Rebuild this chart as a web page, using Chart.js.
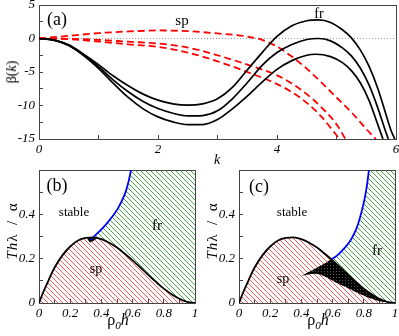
<!DOCTYPE html>
<html>
<head>
<meta charset="utf-8">
<script src="https://cdn.jsdelivr.net/npm/chart.js@4.4.0/dist/chart.umd.min.js"></script>
<style>
body { margin: 0; background: #fff; width: 399px; height: 336px; position: relative; overflow: hidden; font-family: "Liberation Serif", serif; }
canvas { position: absolute; }
.t { position: absolute; transform: translate(-50%, -50%); white-space: nowrap; line-height: 1; color: #000; }
.r { transform: translate(-50%, -50%) rotate(-90deg); }
</style>
</head>
<body>
<canvas id="ca" width="399" height="165" style="left:0;top:0"></canvas>
<canvas id="cb" width="200" height="171" style="left:0;top:165px"></canvas>
<canvas id="cc" width="199" height="171" style="left:200px;top:165px"></canvas>

<div class="t" style="left:57px;top:19px;font-size:18px">(a)</div>
<div class="t" style="left:182px;top:20px;font-size:15px">sp</div>
<div class="t" style="left:319px;top:14px;font-size:14px">fr</div>
<div class="t r" style="left:12px;top:72px;font-size:14px">β(<i>k</i>)</div>
<div class="t" style="left:217px;top:160px;font-size:14px"><i>k</i></div>

<div class="t" style="left:57px;top:185px;font-size:18px">(b)</div>
<div class="t" style="left:74px;top:211px;font-size:13px">stable</div>
<div class="t" style="left:157px;top:225px;font-size:15px">fr</div>
<div class="t" style="left:96px;top:269px;font-size:14px">sp</div>
<div class="t r" style="left:12px;top:231px;font-size:15px;letter-spacing:1px"><i>Th</i>λ&ensp;/&ensp;α</div>
<div class="t" style="left:118px;top:322px;font-size:16px">ρ<sub style="font-size:70%"><i>0</i></sub><i>h</i></div>

<div class="t" style="left:259px;top:186px;font-size:18px">(c)</div>
<div class="t" style="left:292px;top:211px;font-size:13px">stable</div>
<div class="t" style="left:377px;top:250px;font-size:15px">fr</div>
<div class="t" style="left:283px;top:279px;font-size:14px">sp</div>
<div class="t r" style="left:212px;top:231px;font-size:15px;letter-spacing:1px"><i>Th</i>λ&ensp;/&ensp;α</div>
<div class="t" style="left:318px;top:322px;font-size:16px">ρ<sub style="font-size:70%"><i>0</i></sub><i>h</i></div>

<script>
// (a) growth rate beta(k): black = fr branch, red dashed = sp branch
const kFr1 = [0, 0.25, 0.5, 0.75, 1, 1.25, 1.5, 1.75, 2, 2.25, 2.5, 2.75, 3, 3.25, 3.5, 3.75, 4, 4.25, 4.5, 4.7, 4.9, 5.1, 5.25, 5.4, 5.55, 5.7, 5.82, 5.92, 5.98];
const bFr1 = [0, -0.25, -0.95, -2.35, -3.9, -5.6, -7.05, -8.3, -9.2, -9.75, -9.95, -9.75, -9.0, -7.3, -4.7, -2.1, 0.3, 1.9, 2.65, 2.78, 2.4, 1.3, 0.1, -1.7, -4.2, -7.6, -11.0, -13.8, -15];
const kFr2 = [0, 0.25, 0.5, 0.75, 1, 1.25, 1.5, 1.75, 2, 2.25, 2.5, 2.75, 3, 3.25, 3.5, 3.75, 4, 4.25, 4.5, 4.7, 4.9, 5.1, 5.25, 5.4, 5.55, 5.7, 5.8, 5.87];
const bFr2 = [0, -0.25, -1.0, -2.45, -4.2, -6.2, -7.95, -9.4, -10.45, -11.15, -11.55, -11.5, -10.8, -9.0, -6.6, -4.0, -2.1, -0.9, -0.15, 0, -0.35, -1.4, -2.6, -4.4, -7.0, -10.5, -13.2, -15];
const kFr3 = [0, 0.25, 0.5, 0.75, 1, 1.25, 1.5, 1.75, 2, 2.25, 2.5, 2.75, 3, 3.25, 3.5, 3.75, 4, 4.25, 4.5, 4.65, 4.9, 5.1, 5.25, 5.4, 5.55, 5.68, 5.78];
const bFr3 = [0, -0.25, -1.05, -2.55, -4.45, -6.7, -8.8, -10.5, -11.7, -12.45, -12.85, -12.85, -12.1, -10.5, -8.6, -6.5, -4.6, -3.3, -2.5, -2.35, -2.7, -3.6, -4.8, -6.6, -9.3, -12.5, -15];
const kSp1 = [0, 0.5, 1, 1.5, 2, 2.5, 3, 3.5, 3.75, 4, 4.25, 4.5, 4.75, 5, 5.25, 5.5, 5.66];
const bSp1 = [0, 0.4, 0.8, 1.05, 1.2, 1.1, 0.75, 0.3, -0.2, -1.2, -2.7, -4.5, -6.6, -8.8, -11.0, -13.5, -15];
const kSp2 = [0, 0.5, 1, 1.5, 2, 2.5, 3, 3.5, 4, 4.25, 4.5, 4.75, 5, 5.15];
const bSp2 = [0, -0.05, -0.2, -0.48, -0.75, -1.35, -2.5, -3.9, -5.5, -6.7, -8.3, -10.3, -12.8, -15];
const kSp3 = [0, 0.5, 1, 1.5, 2, 2.5, 3, 3.5, 4, 4.25, 4.5, 4.75, 5.05];
const bSp3 = [0, -0.1, -0.45, -0.87, -1.25, -2.1, -3.4, -5.0, -6.8, -8.0, -9.6, -11.7, -15];
const kZero = [0, 6];
const bZero = [0, 0];

// (b), (c) phase diagrams: x = rho0 h, y = T h lambda / alpha
const spX = [0, 0.025, 0.05, 0.1, 0.15, 0.2, 0.25, 0.3, 0.35, 0.4, 0.45, 0.5, 0.55, 0.6, 0.65, 0.7, 0.75, 0.8, 0.85, 0.9, 0.95, 1];
const spY = [0, 0.045, 0.085, 0.16, 0.215, 0.255, 0.282, 0.294, 0.296, 0.288, 0.272, 0.25, 0.222, 0.192, 0.16, 0.127, 0.095, 0.065, 0.04, 0.019, 0.005, 0];
const blueBX = [0.33, 0.35, 0.39, 0.43, 0.47, 0.5, 0.53, 0.555, 0.575, 0.59];
const blueBY = [0.285, 0.298, 0.325, 0.355, 0.39, 0.42, 0.46, 0.5, 0.55, 0.6];
const ovBX = [0.31, 0.33, 0.35, 0.37];
const ovBY = [0.286, 0.273, 0.281, 0.29];
const blueCX = [0.59, 0.63, 0.67, 0.71, 0.74, 0.765, 0.785, 0.805, 0.82, 0.833];
const blueCY = [0.195, 0.215, 0.243, 0.277, 0.315, 0.36, 0.41, 0.47, 0.53, 0.6];
const ovCTopX = [0.4, 0.44, 0.47, 0.5, 0.53, 0.56, 0.59, 0.62, 0.65, 0.7, 0.75, 0.8, 0.85, 0.9, 0.95, 0.97];
const ovCTopY = [0.123, 0.138, 0.148, 0.16, 0.171, 0.183, 0.195, 0.177, 0.16, 0.127, 0.095, 0.065, 0.04, 0.019, 0.005, 0.002];
const ovCLowX = [0.4, 0.44, 0.49, 0.53, 0.57, 0.62, 0.68, 0.74, 0.79, 0.84, 0.89, 0.93, 0.97];
const ovCLowY = [0.123, 0.128, 0.132, 0.125, 0.112, 0.093, 0.073, 0.052, 0.036, 0.021, 0.01, 0.004, 0.001];

const frame = '#444';
const tickFont = {family: 'Liberation Serif', size: 13, style: 'italic'};

function hatch(color) {
    const c = document.createElement('canvas');
    c.width = 5; c.height = 5;
    const g = c.getContext('2d');
    g.strokeStyle = color;
    g.lineWidth = 1;
    g.beginPath();
    g.moveTo(-1, -1); g.lineTo(6, 6);
    g.moveTo(-1, 4); g.lineTo(1, 6);
    g.moveTo(4, -1); g.lineTo(6, 1);
    g.stroke();
    return g.createPattern(c, 'repeat');
}
function dense() {
    const c = document.createElement('canvas');
    c.width = 3; c.height = 3;
    const g = c.getContext('2d');
    g.fillStyle = '#000';
    g.fillRect(0, 0, 3, 3);
    g.fillStyle = '#555';
    g.fillRect(1, 1, 1, 1);
    return g.createPattern(c, 'repeat');
}
const redHatch = hatch('rgba(255,60,60,0.85)');
const greenHatch = hatch('rgba(40,150,40,0.85)');
const blackFill = dense();

function pts(xs, ys) {
    return xs.map((x, i) => ({x: x, y: ys[i]}));
}
function line(xs, ys, color, width, dash) {
    return {data: pts(xs, ys), showLine: true, borderColor: color, borderWidth: width, borderDash: dash || [],
        pointRadius: 0, fill: false, cubicInterpolationMode: 'monotone'};
}
function area(xs, ys, fill, pattern) {
    return {data: pts(xs, ys), showLine: true, borderWidth: 0, borderColor: 'rgba(0,0,0,0)', backgroundColor: pattern,
        pointRadius: 0, fill: fill, cubicInterpolationMode: 'monotone'};
}

function axis(pos, min, max, step, labelFn, size) {
    const horiz = pos === 'bottom' || pos === 'top';
    const shown = pos === 'bottom' || pos === 'left';
    return {
        type: 'linear', position: pos, min: min, max: max,
        ticks: {display: shown, stepSize: step, autoSkip: false, maxRotation: 0, color: '#000', font: tickFont,
            padding: horiz ? 7 : 8, callback: labelFn},
        grid: {drawOnChartArea: false, drawTicks: true, tickLength: -4, color: frame, lineWidth: 1},
        border: {display: true, color: frame, width: 1},
        afterFit(s) {
            if (horiz) { s.height = size; } else { s.width = size; }
            s.paddingLeft = 0; s.paddingRight = 0; s.paddingTop = 0; s.paddingBottom = 0;
        }
    };
}

function panel(id, datasets, xr, yr, xLabel, yLabel, xH, pad) {
    new Chart(document.getElementById(id), {
        type: 'scatter',
        data: {datasets: datasets},
        options: {
            responsive: false, animation: false, devicePixelRatio: 1,
            layout: {padding: pad},
            plugins: {legend: {display: false}, tooltip: {enabled: false}},
            scales: {
                x: axis('bottom', xr[0], xr[1], xr[2], xLabel, xH),
                x2: axis('top', xr[0], xr[1], xr[2], null, 0),
                y: axis('left', yr[0], yr[1], yr[2], yLabel, 39),
                y2: axis('right', yr[0], yr[1], yr[2], null, 0)
            }
        }
    });
}

panel('ca', [
    line(kFr1, bFr1, '#000', 1.7),
    line(kFr2, bFr2, '#000', 1.7),
    line(kFr3, bFr3, '#000', 1.7),
    line(kSp1, bSp1, '#ff0000', 1.8, [7, 4]),
    line(kSp2, bSp2, '#ff0000', 1.8, [7, 4]),
    line(kSp3, bSp3, '#ff0000', 1.8, [7, 4]),
    line(kZero, bZero, '#999', 1, [1, 2])
], [0, 6, 1], [-15, 5, 2.5],
    v => (v % 2 === 0 ? String(v) : ''),
    v => (v % 5 === 0 ? String(v) : ''),
    26, {left: 0, right: 3, top: 5, bottom: 0});

const tenths = v => { const r = Math.round(v * 10); return r % 2 === 0 ? String(r / 10) : ''; };
const tenthsY = v => { const r = Math.round(v * 10); return (r % 2 === 0 && r < 6) ? String(r / 10) : ''; };

panel('cb', [
    line(spX, spY, '#000', 1.8),
    line(blueBX, blueBY, '#0000ff', 1.8),
    area(ovBX, ovBY, {target: 4}, blackFill),
    area(blueBX.concat([1]), blueBY.concat([0.6]), {target: 4}, greenHatch),
    area(spX, spY, 'origin', redHatch)
], [0, 1, 0.1], [0, 0.6, 0.1], tenths, tenthsY, 33, {left: 0, right: 5, top: 5, bottom: 0});

panel('cc', [
    line(spX, spY, '#000', 1.8),
    line(blueCX, blueCY, '#0000ff', 1.8),
    area(ovCLowX, ovCLowY, {target: 3}, blackFill),
    area(ovCTopX, ovCTopY, false, 'rgba(0,0,0,0)'),
    area(blueCX.concat([1]), blueCY.concat([0.6]), {target: 5}, greenHatch),
    area(spX, spY, 'origin', redHatch)
], [0, 1, 0.1], [0, 0.6, 0.1], tenths, tenthsY, 33, {left: 0, right: 4, top: 5, bottom: 0});
</script>
</body>
</html>
